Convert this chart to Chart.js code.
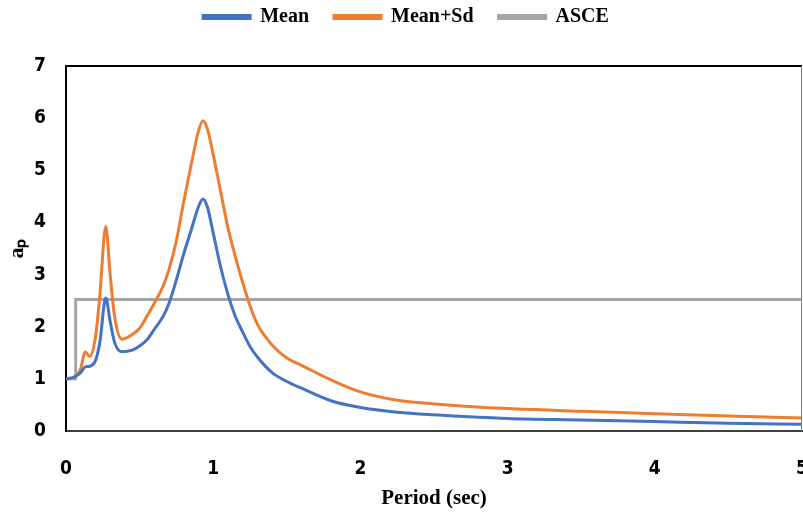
<!DOCTYPE html>
<html>
<head>
<meta charset="utf-8">
<script src="https://cdn.jsdelivr.net/npm/chart.js@4/dist/chart.umd.min.js"></script>
<style>
  html, body { margin: 0; padding: 0; background: #fff; overflow: hidden; }
  #wrap { position: relative; width: 830px; height: 514px; }
</style>
</head>
<body>
<div id="wrap"><canvas id="chart"></canvas></div>
<script>
// period grid (sec)
const periods = [0, 0.05, 0.1, 0.13, 0.16, 0.2, 0.23, 0.27, 0.3, 0.33, 0.38, 0.45, 0.5, 0.55, 0.6, 0.66,
    0.7, 0.75, 0.8, 0.85, 0.9, 0.93, 0.96, 1.0, 1.05, 1.1, 1.15, 1.2, 1.25, 1.3, 1.4, 1.5, 1.6,
    1.8, 2.0, 2.25, 2.5, 3.0, 3.5, 4.0, 4.5, 5.0]

const meanValues = [1.0, 1.03, 1.12, 1.23, 1.24, 1.35, 1.7, 2.55, 2.1, 1.7, 1.52, 1.55, 1.63, 1.75, 1.95, 2.2,
    2.45, 2.9, 3.4, 3.85, 4.3, 4.45, 4.3, 3.8, 3.15, 2.62, 2.2, 1.9, 1.62, 1.42, 1.12, 0.95, 0.82,
    0.58, 0.45, 0.36, 0.31, 0.24, 0.21, 0.18, 0.15, 0.13]

const meanSdValues = [1.0, 1.02, 1.2, 1.52, 1.43, 1.8, 2.6, 3.92, 3.0, 2.2, 1.76, 1.85, 1.97, 2.2, 2.45, 2.78,
    3.1, 3.65, 4.4, 5.1, 5.75, 5.95, 5.8, 5.3, 4.6, 3.9, 3.35, 2.85, 2.4, 2.05, 1.65, 1.4, 1.26,
    0.98, 0.75, 0.59, 0.52, 0.43, 0.38, 0.33, 0.29, 0.25]

const asceX = [0, 0.066, 0.066, 5.0]
const asceY = [1.0, 1.0, 2.52, 2.52]

const xTicks = [0, 1, 2, 3, 4, 5]
const yTicks = [0, 1, 2, 3, 4, 5, 6, 7]

const toPoints = (xs, ys) => xs.map((x, i) => ({ x: x, y: ys[i] }))

const serif = "'Liberation Serif', 'Times New Roman', serif"
const narrow = "'DejaVu Sans Condensed', 'Liberation Sans', sans-serif"

// make room under the legend
const legendSpace = {
    id: 'legendSpace',
    beforeInit(chart) {
        const fit = chart.legend.fit
        chart.legend.fit = function () {
            fit.call(this)
            this.height = 84
        }
    }
}

// top and right edges of the plot box
const frame = {
    id: 'frame',
    afterDraw(chart) {
        const { ctx, chartArea: a } = chart
        ctx.save()
        ctx.strokeStyle = '#000'
        ctx.lineWidth = 2
        ctx.beginPath()
        ctx.moveTo(a.left, a.top)
        ctx.lineTo(a.right, a.top)
        ctx.stroke()
        ctx.strokeStyle = '#7f7f7f'
        ctx.lineWidth = 1
        ctx.beginPath()
        ctx.moveTo(a.right - 0.5, a.top)
        ctx.lineTo(a.right - 0.5, a.bottom)
        ctx.stroke()
        ctx.restore()
    }
}

new Chart(document.getElementById('chart'), {
    type: 'line',
    data: {
        datasets: [
            {
                label: 'Mean',
                data: toPoints(periods, meanValues),
                borderColor: '#4472C4',
                backgroundColor: '#4472C4',
                borderWidth: 3,
                pointRadius: 0,
                cubicInterpolationMode: 'monotone',
            },
            {
                label: 'Mean+Sd',
                data: toPoints(periods, meanSdValues),
                borderColor: '#ED7D31',
                backgroundColor: '#ED7D31',
                borderWidth: 3,
                pointRadius: 0,
                cubicInterpolationMode: 'monotone',
            },
            {
                label: 'ASCE',
                data: toPoints(asceX, asceY),
                borderColor: '#A5A5A5',
                backgroundColor: '#A5A5A5',
                borderWidth: 3,
                pointRadius: 0,
                tension: 0,
            },
        ],
    },
    options: {
        responsive: true,
        maintainAspectRatio: false,
        animation: false,
        layout: { padding: { left: 0, right: 18, top: -18, bottom: 0 } },
        plugins: {
            legend: {
                position: 'top',
                labels: {
                    boxWidth: 47,
                    boxHeight: 3,
                    padding: 25,
                    color: '#000',
                    font: { family: serif, size: 20, weight: 'bold' },
                },
            },
            tooltip: { enabled: false },
        },
        scales: {
            x: {
                type: 'linear',
                min: 0,
                max: 5,
                afterBuildTicks: (s) => { s.ticks = xTicks.map((v) => ({ value: v })) },
                afterFit: (s) => { s.height = 83; s.paddingRight = 28 },
                grid: { display: false, drawTicks: false },
                border: { display: true, color: '#404040', width: 2 },
                ticks: {
                    padding: 27,
                    color: '#000',
                    font: { family: narrow, size: 19, weight: 'bold' },
                },
                title: {
                    display: true,
                    text: 'Period (sec)',
                    color: '#000',
                    padding: { top: 0, bottom: 3 },
                    font: { family: serif, size: 21, weight: 'bold' },
                },
            },
            y: {
                min: 0,
                max: 7,
                afterBuildTicks: (s) => { s.ticks = yTicks.map((v) => ({ value: v })) },
                afterFit: (s) => { s.width = 66 },
                grid: { display: false, drawTicks: false },
                border: { display: true, color: '#000', width: 2 },
                ticks: {
                    padding: 20,
                    color: '#000',
                    font: { family: narrow, size: 19, weight: 'bold' },
                },
                title: {
                    display: true,
                    text: 'aₚ',
                    color: '#000',
                    padding: { top: 4, bottom: 0 },
                    font: { family: serif, size: 22, weight: 'bold' },
                },
            },
        },
    },
    plugins: [legendSpace, frame],
})
</script>
</body>
</html>
